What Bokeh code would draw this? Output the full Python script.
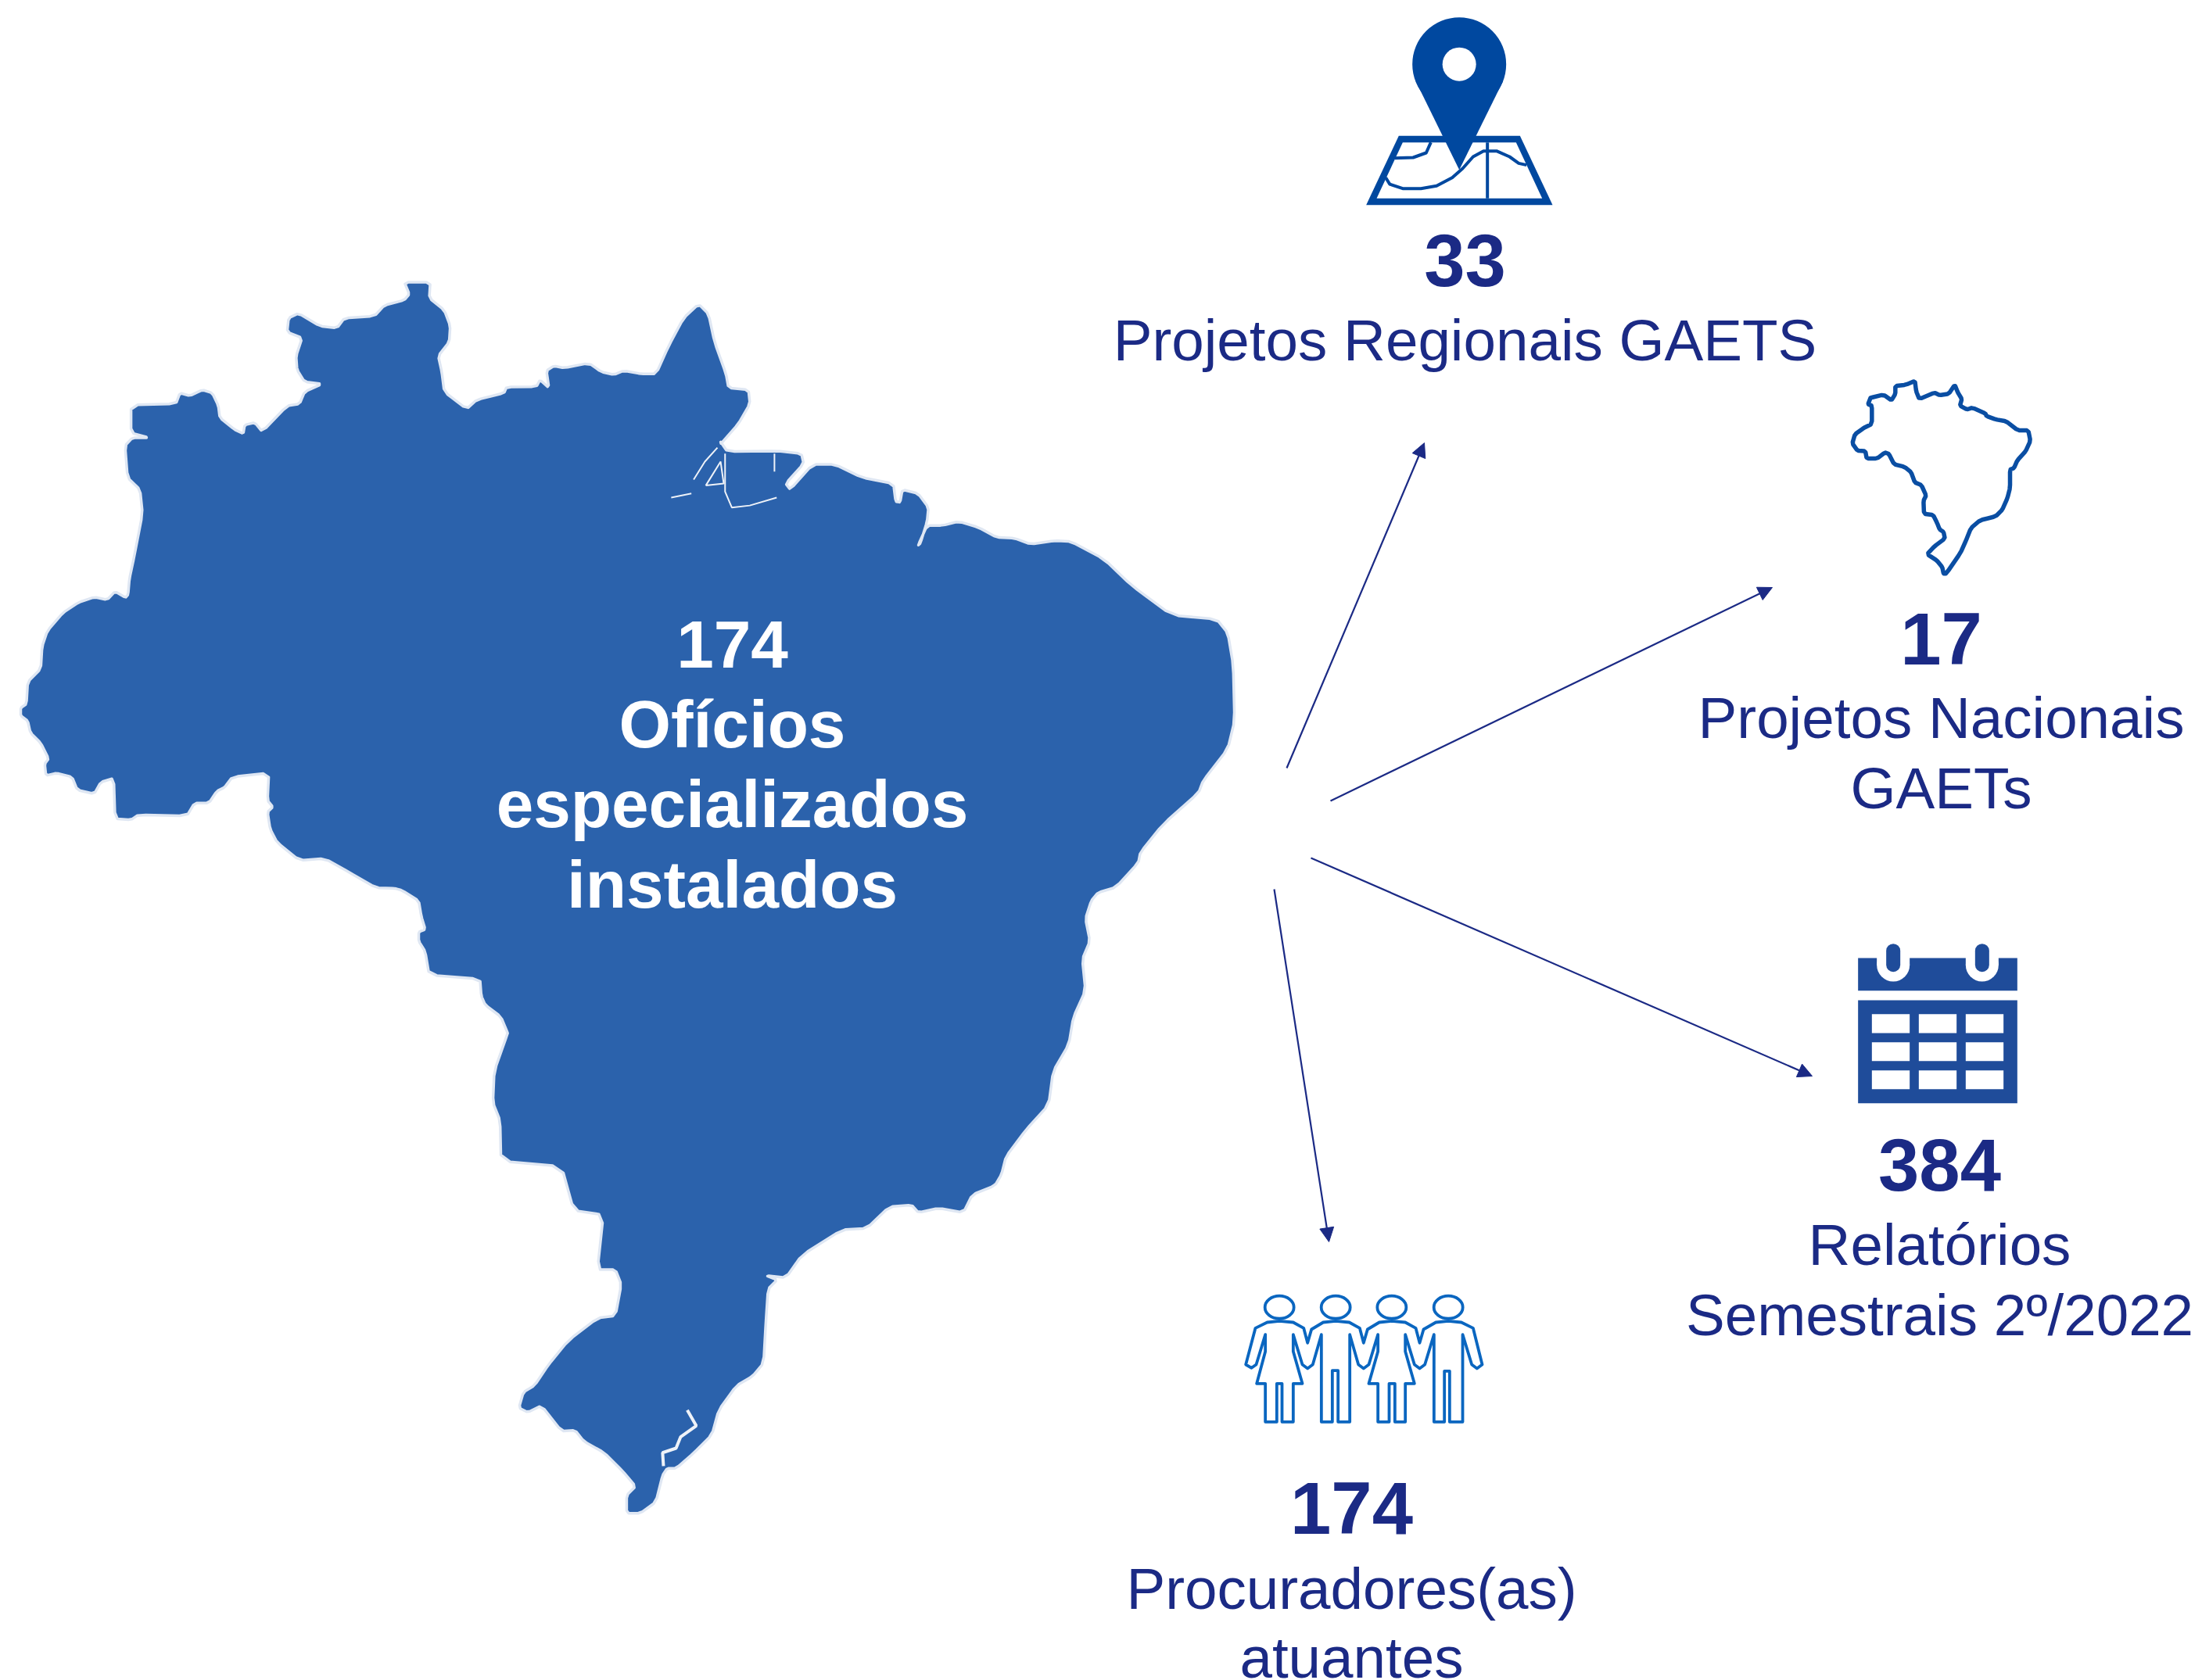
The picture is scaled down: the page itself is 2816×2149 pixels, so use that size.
from bokeh.plotting import figure
from bokeh.models import Range1d, Arrow, NormalHead
from bokeh.core.properties import value
from bokeh.embed import file_html
from bokeh.resources import INLINE

# ---- texts -------------------------------------------------------------
map_lines = ["174", "Ofícios", "especializados", "instalados"]
numbers = ["33", "17", "384", "174"]
labels = ["Projetos Regionais GAETS", "Projetos Nacionais", "GAETs", "Relatórios",
          "Semestrais 2º/2022", "Procuradores(as)", "atuantes"]

# ---- map outline (several traced views) --------------------------------
coast_a = [(262,348),(352,345),(360,318),(380,325),(405,310),(425,318),(437,350),(440,380),(470,410),(487,420),(490,398),(510,392),(525,415),(575,350),(600,345),(610,315),(645,295),(610,290),(595,260),(593,225),(605,180),(575,165),(578,130),(598,118),(640,150),(675,155),(690,130),(750,125),(770,98),(810,85),(820,70),(810,40),(862,40),(860,80),(890,110),(902,150),(900,190),(878,225),(885,265),(890,315),(935,358),(955,335),(1010,318),(1015,303),(1075,302),(1082,285),(1100,305),(1095,262),(1110,250),(1130,255),(1180,243),(1205,265),(1230,272),(1250,262),(1285,270),(1315,270),(1340,200),(1370,130),(1400,95),(1420,120),(1432,190),(1455,270),(1460,305),(1500,310),(1503,345),(1480,395),(1445,445)]
coast_b = [(385,440),(400,465),(510,463),(565,470),(570,495),(530,545),(540,560),(590,497),(640,497),(700,530),(770,545),(775,590),(785,592),(790,560),(825,570),(848,605),(845,640),(830,695),(825,700),(845,650),(880,650),(915,640),(960,655),(1000,680),(1040,682),(1075,697),(1130,688),(1165,690),(1240,735),(1300,800),(1390,875),(1490,885),(1515,920),(1527,1000),(1530,1140),(1515,1210),(1460,1290),(1450,1320),(1370,1400),(1320,1470)]
coast_c = [(1490,5),(1440,60),(1400,72),(1385,90),(1372,130),(1382,180),(1365,220),(1372,290),(1345,350),(1335,410),(1300,470),(1290,545),(1240,600),(1195,660),(1185,700),(1170,725),(1120,745),(1100,785),(1045,775),(1000,785),(985,768),(935,772),(885,820),(830,823),(740,880),(705,930),(660,925),(685,935),(665,955),(660,1030),(655,1120),(630,1150),(595,1170),(555,1225),(540,1280),(500,1320),(460,1355),(440,1355),(430,1370),(415,1430),(380,1455),(350,1455),(350,1415),(370,1395),(340,1360),(300,1320),(255,1295),(235,1270),(205,1272),(160,1215),(130,1230),(110,1220),(120,1185),(145,1170),(175,1125),(220,1070),(285,1020),(325,1015),(338,945),(325,912),(285,912),(298,790),(232,780),(205,682),(70,670),(68,580),(52,540),(55,470),(85,385)]
coast_step = [(505,660),(480,600),(420,555),(405,520),(400,455),(205,440),(190,350),(165,310),(165,275),(190,265),(175,215),(165,155),(100,115),(75,108),(0,105)]
coast_d = [(700,1520),(650,1485),(600,1490),(555,1445)]
coast_west = [(1035,960),(1025,895),(1045,875),(1025,850),(1030,745),(890,760),(860,800),(830,815),(800,860),(745,860),(715,910),(530,905),(500,925),(440,920),(435,765),(385,780),(360,825),(295,810),(275,760),(215,745),(175,755),(170,710),(185,690),(155,630),(115,590),(105,545),(78,525),(78,495),(100,480),(105,395),(155,345),(160,260),(180,200),(240,130),(300,90),(360,70),(410,80),(440,48),(480,72),(490,60),(495,0)]
coast_e = [(268,730),(285,620),(280,560),(255,530),(250,450),(265,430),(298,430),(262,418)]
marajo_marks = [[(275,580),(320,570)],[(325,535),(350,490),(378,455)],[(352,550),(385,490),(392,545),(352,550)],
                [(395,470),(395,565),(410,605),(450,600),(510,580)],[(505,470),(505,515)]]
lagoon_mark = [(485,1225),(505,1260),(470,1285),(460,1310),(430,1320),(432,1350)]

# ---- icons, traced ------------------------------------------------------
small_map = [(155,145),(205,133),(235,155),(250,130),(250,100),(290,95),(325,80),(330,120),(342,150),(400,125),(420,135),(455,130),(478,95),(490,125),(505,150),(498,175),(525,190),(545,183),(595,205),(600,215),(635,228),(675,235),(720,270),(760,270),(768,310),(750,350),(718,385),(705,415),(690,420),(690,490),(680,530),(660,575),(635,600),(575,615),(540,645),(520,695),(500,740),(445,820),(435,820),(430,795),(410,770),(372,745),(400,715),(440,685),(435,660),(420,650),(410,625),(395,595),(360,590),(358,540),(368,520),(350,480),(325,470),(310,430),(285,410),(245,400),(225,360),(210,355),(180,378),(140,378),(135,350),(105,348),(85,320),(95,285),(130,260),(160,245),(160,175),(145,170),(155,145)]
people_path = [(143,230),(143,295),(110,418),(143,418),(143,565),(187,565),(187,418),(207,418),(207,565),(250,565),(250,418),(285,418),(250,295),(250,230),(285,345),(305,360),(325,345),(358,230),(358,565),(400,565),(400,368),(422,368),(422,565),(467,565),(467,230),(500,345),(520,360),(540,345),(575,230),(575,295),(540,418),(575,418),(575,565),(618,565),(618,418),(640,418),(640,565),(680,565),(680,418),(715,418),(680,295),(680,230),(715,345),(735,360),(755,345),(790,230),(790,565),(830,565),(830,370),(850,370),(850,565),(900,565),(900,230),(935,345),(955,360),(975,345),(940,205),(895,183),(845,178),(797,183),(750,210),(735,262),(720,205),(680,183),(628,178),(580,183),(535,210),(520,262),(505,205),(465,183),(413,178),(365,183),(320,210),(305,262),(290,205),(250,183),(197,178),(150,183),(105,205),(68,345),(90,358),(108,345),(143,230)]
people_heads_x = [197, 413, 628, 845]
pin_body = [(270,310),(437,650),(605,310)]
sheet_outer = [(205,520),(670,520),(795,785),(80,785)]
sheet_inner = [(220,545),(655,545),(755,760),(120,760)]
sheet_lines = [[(190,605),(260,603),(310,585),(328,545)],
               [(155,680),(170,705),(220,722),(290,722),(350,712),(410,680),(450,645),(490,600),(530,578),(580,578),(630,600),(665,625),(695,632)],
               [(545,545),(545,760)]]
cal_x = [(160,305),(340,485),(520,665)]
cal_y = [(350,423),(458,530),(566,638)]
cal_pegs = [242, 583]

# arrows: start and end
arrow_links = [((1645,982),(1821,566)), ((1701,1024),(2266,751)), ((1676,1097),(2317,1376)), ((1629,1137),(1699,1588))]

MAP_BLUE = "#2b62ac"; NAVY = "#1b2a85"; PIN = "#00489f"; CAL = "#1f4c9a"; PEOPLE = "#0a66c0"; OUTLINE = "#0a4ea3"
FONT = value("Liberation Sans")

def A(pts): return [x/1.568 for x,y in pts], [340+y/1.96 for x,y in pts]
def B(pts): return [700+x/1.742 for x,y in pts], [340+y/1.96 for x,y in pts]
def C(pts): return [600+x/1.742 for x,y in pts], [1100+y/1.742 for x,y in pts]
def icon(ox, oy):
    return lambda pts: ([ox+x/3 for x,y in pts], [oy+y/3 for x,y in pts])
def soften(x, y, closed=True):
    """corner cutting, so that a traced outline does not look faceted"""
    n = len(x); X, Y = [], []
    for i in range(n if closed else n-1):
        j = (i+1) % n
        X += [0.85*x[i]+0.15*x[j], 0.15*x[i]+0.85*x[j]]
        Y += [0.85*y[i]+0.15*y[j], 0.15*y[i]+0.85*y[j]]
    return X, Y

p = figure(width=2816, height=2149, x_range=Range1d(0,2816), y_range=Range1d(2149,0),
           output_backend="svg", toolbar_location=None, min_border=0)
p.axis.visible = False
p.grid.visible = False
p.outline_line_color = None
p.background_fill_color = "white"

# big map
xs, ys = [], []
for f, part in ((A, coast_a), (B, coast_b), (C, coast_c), (icon(480,1100), coast_step), (A, coast_d),
                (icon(0,740), coast_west), (A, coast_e)):
    x, y = f(part); xs += x; ys += y
xs, ys = soften(xs, ys)
p.patch(xs, ys, fill_color=MAP_BLUE, line_color="#dfe7f3", line_width=3.5, line_join="round")
for m in marajo_marks:
    x, y = B(m); p.line(x, y, line_color="#eef2f8", line_width=2)
x, y = C(lagoon_mark); p.line(x, y, line_color="#eef2f8", line_width=4)

# pin icon
I = icon(1720, 0)
x, y = I(sheet_outer); p.patch(x, y, fill_color=PIN, line_color=None)
x, y = I(sheet_inner); p.patch(x, y, fill_color="white", line_color=None)
for s in sheet_lines:
    x, y = I(s); p.line(x, y, line_color=PIN, line_width=4, line_join="round")
x, y = I([(437,245)]); p.circle(x, y, radius=60, fill_color=PIN, line_color=None)
x, y = I(pin_body); p.patch(x, y, fill_color=PIN, line_color=None)
x, y = I([(437,245)]); p.circle(x, y, radius=21.5, fill_color="white", line_color=None)

# small map icon
I = icon(2340, 460)
x, y = I(small_map); x, y = soften(x, y)
p.patch(x, y, fill_color=None, line_color=OUTLINE, line_width=5.5, line_join="round")

# calendar icon
I = icon(2340, 1180)
def box(I, x0, y0, x1, y1, color):
    (xa, xb), (ya, yb) = I([(x0,y0),(x1,y1)])
    p.quad(left=xa, right=xb, top=ya, bottom=yb, fill_color=color, line_color=None)
box(I, 107, 135, 718, 260, CAL)
box(I, 107, 297, 718, 692, CAL)
for cx in cal_pegs:
    box(I, cx-63, 130, cx+63, 162, "white")
    x, y = I([(cx,162)]); p.circle(x, y, radius=21, fill_color="white", line_color=None)
    x, y = I([(cx,107),(cx,161)]); p.line(x, y, line_color=CAL, line_width=18, line_cap="round")
for xa, xb in cal_x:
    for ya, yb in cal_y:
        box(I, xa, ya, xb, yb, "white")

# people icon
I = icon(1570, 1630)
x, y = I(people_path); p.line(x, y, line_color=PEOPLE, line_width=3.8, line_join="round", line_cap="round")
for cx in people_heads_x:
    x, y = I([(cx,125)])
    p.ellipse(x, y, width=37, height=29, fill_color=None, line_color=PEOPLE, line_width=3.8)

# arrows
for (a, b) in arrow_links:
    p.add_layout(Arrow(end=NormalHead(size=18, fill_color=NAVY, line_color=NAVY, line_width=1),
                       x_start=a[0], y_start=a[1], x_end=b[0], y_end=b[1],
                       line_color=NAVY, line_width=2.2))

# texts
def label(xc, yb, t, size, color, style="normal"):
    p.text([xc], [yb-0.385*size], text=[t], text_font=FONT, text_font_size=f"{size}px", text_color=color,
           text_font_style=style, text_align="center", text_baseline="alphabetic")
for t, yb in zip(map_lines, (857, 959, 1061, 1164)):
    label(936, yb, t, 85.5, "white", "bold")
for t, xc, yb in zip(numbers, (1873, 2482, 2480, 1728), (369, 853, 1526, 1965)):
    label(xc, yb, t, 94, NAVY, "bold")
for t, xc, yb in zip(labels, (1873, 2482, 2482, 2480, 2480, 1728, 1728), (463, 946, 1036, 1620, 1710, 2060, 2148)):
    label(xc, yb, t, 74.6, NAVY)

open("out.html", "w").write(file_html(p, INLINE))
